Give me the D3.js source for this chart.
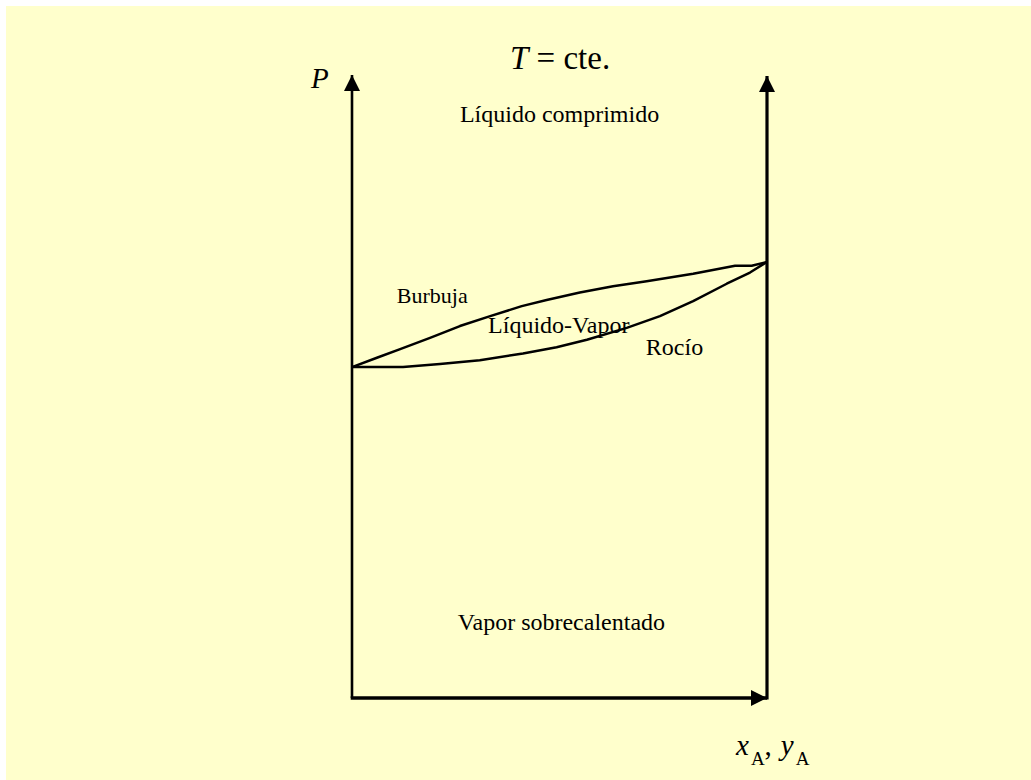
<!DOCTYPE html>
<html>
<head>
<meta charset="utf-8">
<script src="https://cdn.jsdelivr.net/npm/d3@7"></script>
<style>
body { margin: 0; background: #fff; }
svg { display: block; }
text { font-family: "Liberation Serif", "Times New Roman", serif; fill: #000; }
</style>
</head>
<body>
<script>
"use strict";
// bubble curve (upper) : composition x, pressure P (arbitrary units 0-100)
const bubbleX = [0, 0.06, 0.116, 0.188, 0.26, 0.333, 0.409, 0.469, 0.549, 0.629, 0.71, 0.822, 0.923, 0.963, 1];
const bubbleP = [53.2, 54.7, 56.1, 57.9, 59.8, 61.4, 63.0, 64.0, 65.2, 66.2, 67.0, 68.2, 69.5, 69.5, 70.1];
// dew curve (lower)
const dewX = [0, 0.123, 0.212, 0.308, 0.412, 0.493, 0.566, 0.662, 0.742, 0.822, 0.903, 0.959, 1];
const dewP = [53.2, 53.2, 53.7, 54.3, 55.4, 56.4, 57.6, 59.5, 61.4, 63.8, 66.6, 68.4, 70.1];
// region labels: text, x, P
const labelText = ["Líquido comprimido", "Burbuja", "Líquido-Vapor", "Rocío", "Vapor sobrecalentado"];
const labelX = [0.26, 0.108, 0.328, 0.708, 0.255];
const labelP = [92.6, 63.5, 58.7, 55.2, 10.9];

function app() {
	const w = 1031;
	const h = 780;
	const xScale = d3.scaleLinear().domain([0, 1]).range([352, 767]);
	const yScale = d3.scaleLinear().domain([0, 100]).range([698, 76]);
	const svg = d3.select("body").append("svg").attr("width", w).attr("height", h);

	svg.append("rect").attr("x", 6).attr("y", 6).attr("width", w - 6).attr("height", h - 6).attr("fill", "#ffffcc");

	const defs = svg.append("defs");
	defs.append("marker").attr("id", "arrow").attr("viewBox", "0 0 16 16").attr("refX", 16).attr("refY", 8)
		.attr("markerWidth", 16).attr("markerHeight", 16).attr("markerUnits", "userSpaceOnUse").attr("orient", "auto")
		.append("path").attr("d", "M0,0 L16,8 L0,16 Z").attr("fill", "#000");

	// axes
	svg.append("line").attr("x1", xScale(0)).attr("y1", yScale(0)).attr("x2", xScale(0)).attr("y2", yScale(100) - 1)
		.attr("stroke", "#000").attr("stroke-width", 2.6).attr("marker-end", "url(#arrow)");
	svg.append("line").attr("x1", xScale(1)).attr("y1", yScale(0) + 1.5).attr("x2", xScale(1)).attr("y2", yScale(100))
		.attr("stroke", "#000").attr("stroke-width", 3.2).attr("marker-end", "url(#arrow)");
	svg.append("line").attr("x1", xScale(0) - 1.3).attr("y1", yScale(0)).attr("x2", xScale(1)).attr("y2", yScale(0))
		.attr("stroke", "#000").attr("stroke-width", 3.6).attr("marker-end", "url(#arrow)");

	const line = d3.line().x(d => xScale(d[0])).y(d => yScale(d[1]));
	svg.append("path").attr("d", line(d3.zip(bubbleX, bubbleP))).attr("fill", "none").attr("stroke", "#000").attr("stroke-width", 2.5).attr("stroke-linejoin", "round");
	svg.append("path").attr("d", line(d3.zip(dewX, dewP))).attr("fill", "none").attr("stroke", "#000").attr("stroke-width", 2.5).attr("stroke-linejoin", "round");

	svg.selectAll("text.region").data(d3.zip(labelText, labelX, labelP)).enter().append("text").attr("class", "region")
		.attr("x", d => xScale(d[1])).attr("y", d => yScale(d[2]))
		.attr("font-size", d => d[0] === "Burbuja" ? 22 : 24)
		.text(d => d[0]);

	// title
	const title = svg.append("text").attr("x", 510).attr("y", 69).attr("font-size", 33);
	title.append("tspan").attr("font-style", "italic").text("T");
	title.append("tspan").text(" = cte.");

	// axis labels
	svg.append("text").attr("x", 311).attr("y", 88).attr("font-size", 29).attr("font-style", "italic").text("P");
	const xl = svg.append("text").attr("x", 736).attr("y", 755).attr("font-size", 29);
	xl.append("tspan").attr("font-style", "italic").text("x");
	xl.append("tspan").attr("font-size", 19).attr("dx", 2).attr("dy", 10).text("A");
	xl.append("tspan").attr("dy", -10).text(",");
	xl.append("tspan").attr("font-style", "italic").attr("dx", 9).text("y");
	xl.append("tspan").attr("font-size", 19).attr("dx", 2).attr("dy", 10).text("A");
}

app();
</script>
</body>
</html>
